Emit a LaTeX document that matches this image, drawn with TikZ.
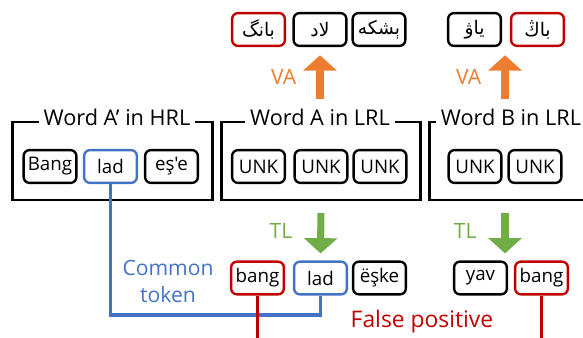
\documentclass[tikz,border=0pt]{standalone}
\usepackage{fontspec}
\newfontfamily\figfont{Open Sans}
\newfontfamily\arabicfont[Script=Arabic]{DejaVu Sans}
\TeXXeTstate=1
\usepackage{xcolor}
\usetikzlibrary{arrows.meta,positioning,calc}

\definecolor{lossred}{HTML}{C00000}
\definecolor{tokblue}{HTML}{4472C4}
\definecolor{vaorange}{HTML}{ED7D31}
\definecolor{tlgreen}{HTML}{70AD47}

\newcommand{\arabtok}[1]{{\arabicfont\beginR #1\endR}}

\begin{document}
\begin{tikzpicture}[
    x=0.03cm, y=-0.03cm,
    every node/.style={font=\figfont},
    token/.style={draw, line width=2pt, rounded corners=5pt,
        minimum width=45pt, minimum height=28pt, inner sep=1pt,
        font=\figfont\fontsize{16}{19}\selectfont},
    frame/.style={draw, line width=2.5pt, minimum width=170pt, minimum height=66.6pt},
    title/.style={fill=white, inner xsep=4pt, inner ysep=2pt,
        font=\figfont\fontsize{18.5}{22}\selectfont},
    lbl/.style={font=\figfont\fontsize{18}{23}\selectfont},
    va/.style={draw=vaorange, line width=6pt, -{Triangle[width=28pt,length=13pt]},
        shorten <=6pt, shorten >=7pt},
    tl/.style={draw=tlgreen, line width=6pt, -{Triangle[width=28pt,length=13pt]},
        shorten <=10pt, shorten >=6pt},
    common/.style={draw=tokblue, line width=2.6pt},
    falsepos/.style={draw=lossred, line width=3pt},
]
\clip (0,0) rectangle (583,338);

% Frames with their titles
\node[frame] (frameH) at (112.5,161) {};
\node[frame] (frameA) at (321,161) {};
\node[frame] (frameB) at (529.5,161) {};
\node[title] (titleH) at (117,117) {Word A’ in HRL};
\node[title] (titleA) at (320,117) {Word A in LRL};
\node[title] (titleB) at (511,117) {Word B in LRL};

% Tokens inside the frames
\node[token] (hl1) at (50,166.5) {Bang};
\node[token, draw=tokblue] (hl2) at (110.5,166.5) {lad};
\node[token] (hl3) at (171.5,166.5) {eş'e};
\node[token] (ua1) at (258.5,166.5) {UNK};
\node[token] (ua2) at (321,166.5) {UNK};
\node[token] (ua3) at (380,166.5) {UNK};
\node[token] (ub1) at (475,166.5) {UNK};
\node[token] (ub2) at (535,166.5) {UNK};
\coordinate (midB) at ($(ub1)!.5!(ub2)$);

% Vocabulary adaptation (top row)
\node[token, draw=lossred] (ta1) at (258.5,29.5) {\arabtok{بانگ}};
\node[token] (ta2) at (320,29.5) {\arabtok{لاد}};
\node[token] (ta3) at (379,29.5) {\arabtok{ېشكە}};
\node[token] (tb1) at (474.5,29.5) {\arabtok{ياۋ}};
\node[token, draw=lossred] (tb2) at (537.5,29.5) {\arabtok{باڭ}};

% Transliteration (bottom row)
\node[token, draw=lossred] (ba1) at (257.5,278) {bang};
\node[token, draw=tokblue] (ba2) at (320.5,278) {lad};
\node[token] (ba3) at (379.5,278) {ëşke};
\node[token] (bb1) at (480.5,278) {yav};
\node[token, draw=lossred] (bb2) at (541.5,278) {bang};

% Arrows
\draw[va] (titleA.north) -- (ta2.south)
    node[midway, left=14pt, lbl, text=vaorange] {VA};
\draw[va] (titleB.north -| midB) -- (tb1.south -| midB)
    node[midway, left=14pt, lbl, text=vaorange] {VA};
\draw[tl] (frameA.south) -- (ba2.north)
    node[midway, left=18pt, lbl, text=tlgreen] {TL};
\draw[tl] (frameB.south -| midB) -- (bb1.north -| midB)
    node[midway, left=18pt, lbl, text=tlgreen] {TL};

% Common token and false positives
\coordinate (low) at (0,315);
\coordinate (edge) at (0,345);
\draw[common] (hl2.south) -- (hl2.south |- low) -| (ba2.south);
\node[lbl, text=tokblue, align=center] (commonlbl) at (168,281) {Common\\token};
\draw[falsepos] (ba1.south) -- (ba1.south |- edge);
\draw[falsepos] (bb2.south) -- (bb2.south |- edge);
\node[lbl, text=lossred, font=\figfont\fontsize{19.5}{23}\selectfont] (fplbl) at (422,322) {False positive};

\end{tikzpicture}
\end{document}
